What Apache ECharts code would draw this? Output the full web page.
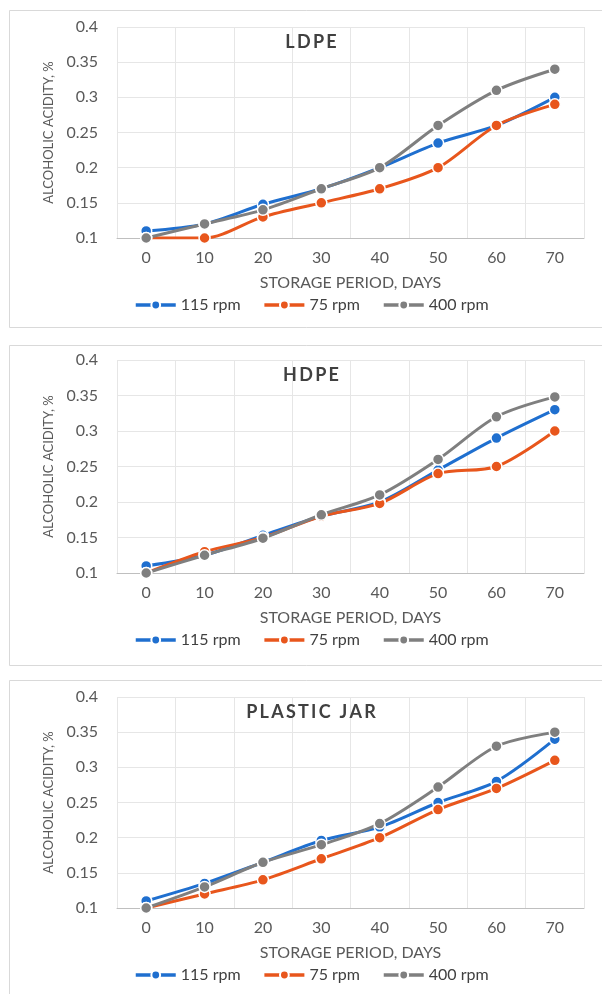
<!DOCTYPE html>
<html>
<head>
<meta charset="utf-8">
<script src="https://cdn.jsdelivr.net/npm/echarts@6/dist/echarts.min.js"></script>
<style>
  html, body { margin: 0; padding: 0; background: #fff; }
  #chart { width: 602px; height: 994px; }
</style>
</head>
<body>
<div id="chart"></div>
<script>
// storage period, days
const days = ["0", "10", "20", "30", "40", "50", "60", "70"];
const seriesNames = ["115 rpm", "75 rpm", "400 rpm"];
const panelTitles = ["LDPE", "HDPE", "PLASTIC JAR"];

// alcoholic acidity, %
const ldpe115 = [0.11, 0.12, 0.148, 0.17, 0.2, 0.235, 0.26, 0.30];
const ldpe75 = [0.10, 0.10, 0.13, 0.15, 0.17, 0.20, 0.26, 0.29];
const ldpe400 = [0.10, 0.12, 0.14, 0.17, 0.20, 0.26, 0.31, 0.34];

const hdpe115 = [0.11, 0.125, 0.153, 0.18, 0.20, 0.245, 0.29, 0.33];
const hdpe75 = [0.10, 0.13, 0.15, 0.18, 0.198, 0.24, 0.25, 0.30];
const hdpe400 = [0.10, 0.125, 0.149, 0.182, 0.21, 0.26, 0.32, 0.348];

const jar115 = [0.11, 0.135, 0.165, 0.196, 0.215, 0.25, 0.28, 0.34];
const jar75 = [0.10, 0.12, 0.14, 0.17, 0.20, 0.24, 0.27, 0.31];
const jar400 = [0.10, 0.13, 0.165, 0.19, 0.22, 0.272, 0.33, 0.35];

const panelData = [
  [ldpe115, ldpe75, ldpe400],
  [hdpe115, hdpe75, hdpe400],
  [jar115, jar75, jar400],
];

const colors = ["#1f6fcf", "#e8561c", "#7f7f7f"];
const panelTops = [27, 360, 697];
const panelHeights = [211, 213, 211];
const boxTops = [8, 343, 678];
const boxHeights = [317, 320, 330];
const font = "Lato, 'Open Sans', sans-serif";

// excel-style character spacing on the panel titles
const spaced = (s) => s.split("").join("\u2009");

const chart = echarts.init(document.getElementById("chart"), null, { renderer: "canvas" });

const grids = [], xAxes = [], yAxes = [], series = [], legends = [], titles = [], boxes = [];

panelTops.forEach((top, i) => {
  const h = panelHeights[i];
  grids.push({ left: 117, right: 18, top: top, height: h });

  xAxes.push({
    type: "category",
    gridIndex: i,
    data: days,
    boundaryGap: true,
    name: "STORAGE PERIOD, DAYS",
    nameLocation: "middle",
    nameGap: 37,
    nameTextStyle: { color: "#595959", fontSize: 16, fontFamily: font },
    axisLine: { lineStyle: { color: "#bfbfbf" } },
    axisTick: { show: false },
    axisLabel: { color: "#595959", fontSize: 16, fontFamily: font, margin: 12 },
    splitLine: { show: true, lineStyle: { color: "#e6e6e6" } },
  });

  yAxes.push({
    type: "value",
    gridIndex: i,
    min: 0.1,
    max: 0.4,
    interval: 0.05,
    name: "ALCOHOLIC ACIDITY, %",
    nameLocation: "middle",
    nameGap: 62,
    nameTextStyle: { color: "#595959", fontSize: 13, fontFamily: font },
    axisLine: { show: false },
    axisTick: { show: false },
    axisLabel: {
      color: "#595959", fontSize: 16, fontFamily: font, margin: 19,
      formatter: (v) => String(parseFloat(v.toFixed(2))),
    },
    splitLine: { show: true, lineStyle: { color: "#e6e6e6" } },
  });

  panelData[i].forEach((vals, k) => {
    series.push({
      name: seriesNames[k],
      type: "line",
      xAxisIndex: i,
      yAxisIndex: i,
      data: vals,
      smooth: 0.3,
      symbol: "circle",
      symbolSize: 11,
      color: colors[k],
      lineStyle: { width: 3, color: colors[k] },
      itemStyle: { color: colors[k], borderColor: "#fff", borderWidth: 1.5 },
      emphasis: { disabled: true },
    });
  });

  legends.push({
    data: seriesNames,
    left: 129,
    top: top + h + 54,
    itemWidth: 40,
    itemHeight: 11,
    itemGap: 22,
    lineStyle: { width: 3.5 },
    textStyle: { color: "#404040", fontSize: 16, fontFamily: font },
  });

  titles.push({
    text: spaced(panelTitles[i]),
    left: 306,
    top: top + 1,
    textAlign: "center",
    textStyle: { color: "#404040", fontSize: 18, fontWeight: "bold", fontFamily: font },
  });

  boxes.push({
    type: "rect",
    left: 7,
    top: boxTops[i],
    shape: { width: 610, height: boxHeights[i] },
    style: { fill: "none", stroke: "#d9d9d9", lineWidth: 1 },
    silent: true,
    z: -1,
  });
});

chart.setOption({
  backgroundColor: "#fff",
  animation: false,
  title: titles,
  legend: legends,
  grid: grids,
  xAxis: xAxes,
  yAxis: yAxes,
  series: series,
  graphic: boxes,
});
</script>
</body>
</html>
